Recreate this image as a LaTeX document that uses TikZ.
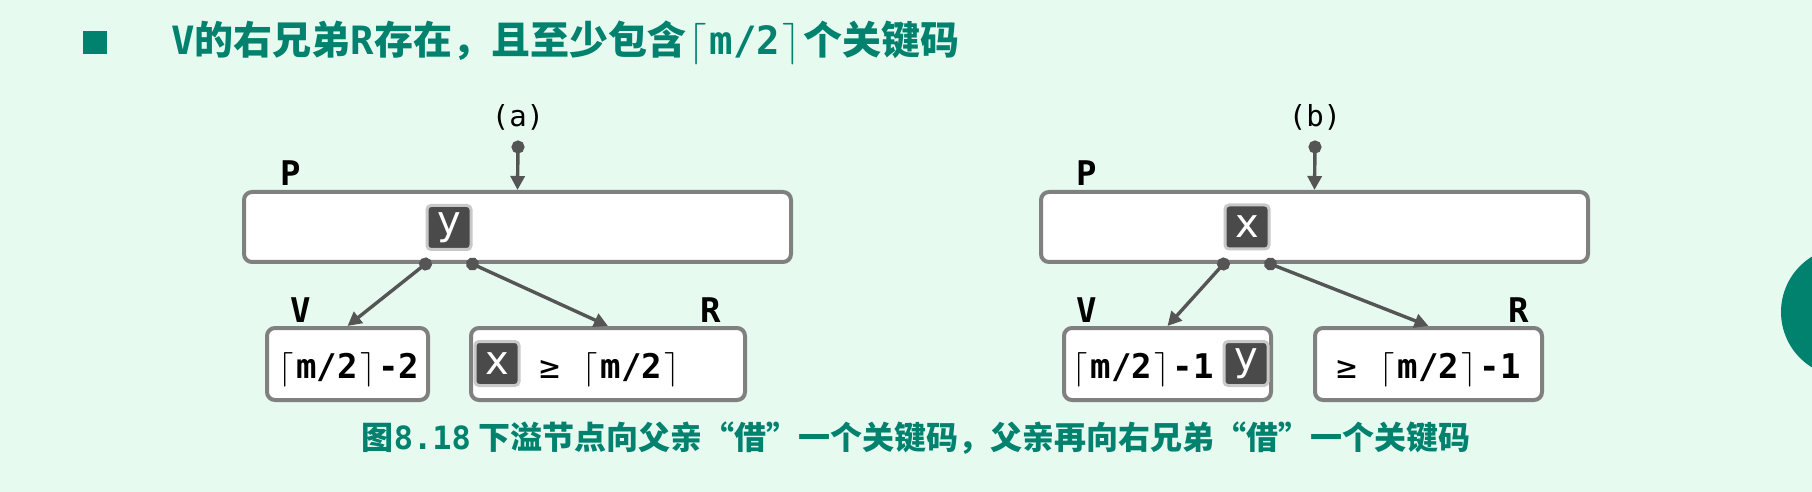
\documentclass[tikz,border=0pt]{standalone}
\usepackage{fontspec}
\setmainfont{Noto Sans CJK SC}
\newfontfamily\mono{DejaVu Sans Mono}
\newfontfamily\keyfont{DejaVu Sans}
\usetikzlibrary{arrows.meta}
\definecolor{bgmint}{RGB}{230,250,240}
\definecolor{headteal}{RGB}{0,130,110}
\definecolor{boxgray}{RGB}{128,128,128}
\definecolor{linkgray}{RGB}{85,85,85}
\definecolor{keydark}{RGB}{74,74,74}
\definecolor{keyedge}{RGB}{200,200,200}
\newcommand{\lc}{\makebox[0.602em]{$\lceil$}}
\newcommand{\rc}{\makebox[0.602em]{$\rceil$}}
\newcommand{\ceilm}{\lc m/2\rc}

\begin{document}
\begin{tikzpicture}[x=0.5pt,y=-0.5pt,
    pbox/.style={draw=boxgray, fill=white, line width=2pt, rounded corners=4pt,
      minimum width=273.5pt, minimum height=35pt},
    cbox/.style={draw=boxgray, fill=white, line width=2pt, rounded corners=4pt,
      minimum height=36pt, inner sep=0pt, text height=16pt, text depth=2pt,
      font=\mono\bfseries\fontsize{17pt}{20pt}\selectfont},
    keybox/.style={fill=keydark, draw=keyedge, line width=1.5pt, rounded corners=2pt,
      minimum size=22pt, inner sep=0pt, text=white,
      font=\keyfont\fontsize{20pt}{22pt}\selectfont},
    cnt/.style={inner sep=0pt, font=\mono\bfseries\fontsize{17pt}{20pt}\selectfont},
    lbl/.style={inner sep=0pt, font=\mono\bfseries\fontsize{17pt}{20pt}\selectfont},
    tag/.style={inner sep=0pt, font=\mono\fontsize{14.5pt}{16pt}\selectfont},
    link/.style={draw=linkgray, line width=1.7pt,
      {Circle[length=6.5pt]}-{Triangle[length=7pt,width=7pt]}, shorten <=-3.25pt}]
  \fill[bgmint] (0,0) rectangle (1812,492);
  \useasboundingbox (0,0) rectangle (1812,492);
  \begin{scope}
    \clip (0,0) rectangle (1812,492);
    \fill[headteal] (1846,312) circle (65);
  \end{scope}

  % heading
  \fill[headteal] (83,31) rectangle (107,54);
  \node[anchor=west, inner sep=0pt, text=headteal,
    font=\bfseries\fontsize{19.5pt}{21pt}\selectfont] (head) at (171,43)
    {{\mono V}的右兄弟{\mono R}存在，且至少包含{\mono\ceilm}个关键码};

  % (a)
  \node[tag] (taga) at (518,117) {(a)};
  \coordinate (ina) at (518,147);
  \node[pbox] (Pa) at (517.5,227) {};
  \node[keybox] (ya) at (449,227.5) {y};
  \node[lbl] (Pla) at (291,173) {P};
  \node[cbox, minimum width=80.5pt] (Va) at (347.5,364) {\ceilm-2};
  \node[cbox, minimum width=137pt] (Ra) at (608,364) {};
  \node[keybox] (xa) at (497,363.5) {x};
  \node[cnt, anchor=base west] (Rta) at (539,378) {{\mdseries ≥} \ceilm};
  \node[lbl] (Vla) at (301,310) {V};
  \node[lbl] (Rla) at (711,310) {R};
  \draw[link] (ina) -- (Pa.north);
  \draw[link] (ya.south west |- Pa.south) -- (Va.north);
  \draw[link] (ya.south east |- Pa.south) -- (Ra.north);

  % (b)
  \node[tag] (tagb) at (1315,117) {(b)};
  \coordinate (inb) at (1315,147);
  \node[pbox] (Pb) at (1314.5,227) {};
  \node[keybox] (xb) at (1247,227) {x};
  \node[lbl] (Plb) at (1087,173) {P};
  \node[cbox, minimum width=103.5pt] (Vb) at (1167.5,364) {};
  \node[cnt, anchor=base west] (Vtb) at (1070,378) {\ceilm-1};
  \node[keybox] (yb) at (1246,363.5) {y};
  \node[cbox, minimum width=113.5pt] (Rb) at (1428.5,364) {{\mdseries ≥} \ceilm-1};
  \node[lbl] (Vlb) at (1087,310) {V};
  \node[lbl] (Rlb) at (1519,310) {R};
  \draw[link] (inb) -- (Pb.north);
  \draw[link] (xb.south west |- Pb.south) -- (Vb.north);
  \draw[link] (xb.south east |- Pb.south) -- (Rb.north);

  % caption
  \node[inner sep=0pt, text=headteal, font=\bfseries\fontsize{16pt}{18pt}\selectfont]
    (cap) at (916,438)
    {图{\mono 8.18} 下溢节点向父亲“借”一个关键码，父亲再向右兄弟“借”一个关键码};
\end{tikzpicture}
\end{document}
